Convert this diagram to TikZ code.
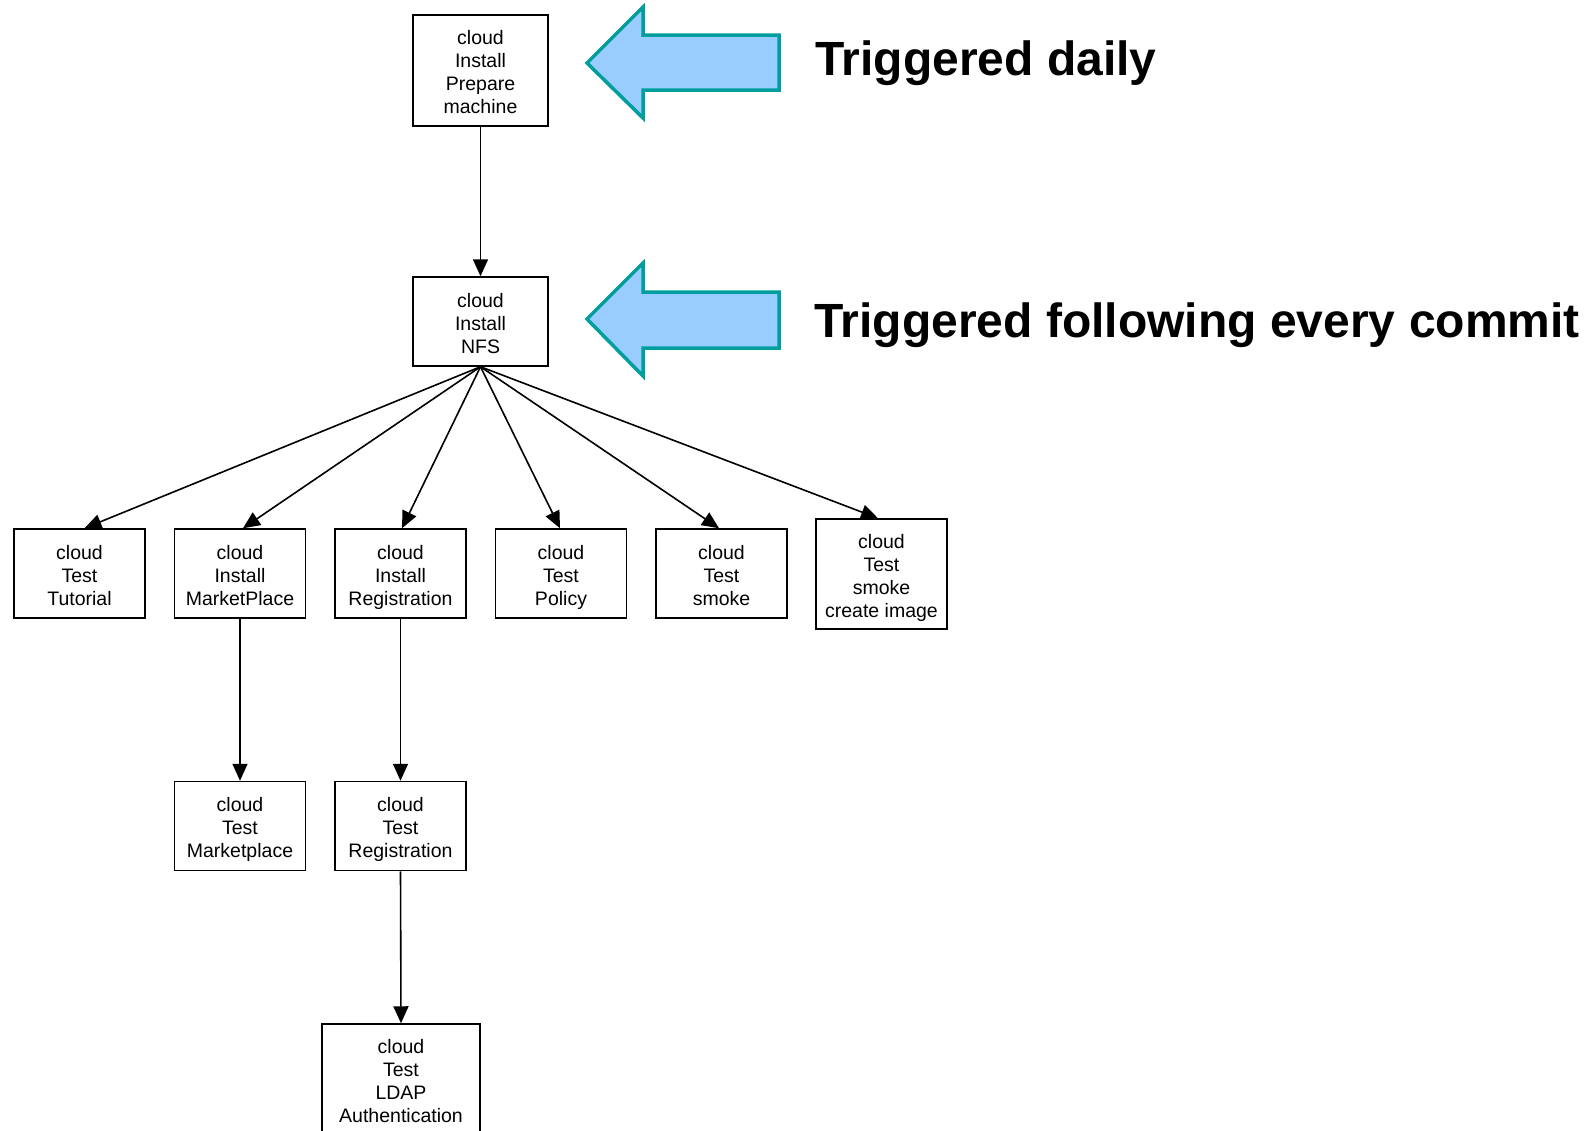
\documentclass[tikz,border=0pt]{standalone}
\usepackage{fontspec}
\setmainfont{Liberation Sans}
\usetikzlibrary{arrows.meta}
\definecolor{arrowfill}{HTML}{99CCFF}
\definecolor{arrowedge}{HTML}{009E9E}
\newcommand{\jobtop}{\rule{0pt}{24pt}}
\begin{document}
\begin{tikzpicture}[x=1pt,y=-1pt,
    job/.style={draw,line width=1.5pt,align=center,inner sep=0pt,
      minimum width=131pt,minimum height=89pt,
      font=\fontsize{19.5}{23}\selectfont,
      execute at end node={\rule[-7pt]{0pt}{0pt}}},
    dep/.style={line width=1.6pt,-{Triangle[length=17pt,width=15pt]}},
    bigarrow/.style={draw=arrowedge,fill=arrowfill,line width=3.5pt},
    trigger/.style={anchor=base west,inner sep=0pt,
      font=\fontsize{48}{57}\selectfont\bfseries}]
    \useasboundingbox (0,0) rectangle (1595,1130);
    % jobs
    \node[job,minimum width=135pt,minimum height=111pt] (prep) at (480.5,70.5) {\jobtop cloud\\Install\\Prepare\\machine};
    \node[job,minimum width=135pt] (nfs) at (480.5,321.5) {\jobtop cloud\\Install\\NFS};
    \node[job] (tut) at (79.5,573.5) {\jobtop cloud\\Test\\Tutorial};
    \node[job] (mkt) at (240,573.5) {\jobtop cloud\\Install\\MarketPlace};
    \node[job] (reg) at (400.5,573.5) {\jobtop cloud\\Install\\Registration};
    \node[job] (pol) at (561,573.5) {\jobtop cloud\\Test\\Policy};
    \node[job] (smoke) at (721.5,573.5) {\jobtop cloud\\Test\\smoke};
    \node[job,minimum height=110pt] (img) at (881.5,574) {\jobtop cloud\\Test\\smoke\\create image};
    \node[job] (tmkt) at (240,826) {\jobtop cloud\\Test\\Marketplace};
    \node[job] (treg) at (400.5,826) {\jobtop cloud\\Test\\Registration};
    \node[job,minimum width=158pt,minimum height=110pt] (ldap) at (401,1079) {\jobtop cloud\\Test\\LDAP\\Authentication};
    % dependencies
    \draw[dep] (prep.south) -- (nfs.north);
    \draw[dep] (nfs.south) -- ([xshift=5pt]tut.north);
    \draw[dep] (nfs.south) -- ([xshift=3pt]mkt.north);
    \draw[dep] (nfs.south) -- ([xshift=1.5pt]reg.north);
    \draw[dep] (nfs.south) -- ([xshift=-1pt]pol.north);
    \draw[dep] (nfs.south) -- ([xshift=-2.5pt]smoke.north);
    \draw[dep] (nfs.south) -- ([xshift=-3.5pt]img.north);
    \draw[dep] (mkt.south) -- (tmkt.north);
    \draw[dep] (reg.south) -- (treg.north);
    \draw[dep] (treg.south) -- (ldap.north);
    % triggers
    \draw[bigarrow] (587,63) -- (643,7) -- (643,35) -- (779,35) -- (779,90) -- (643,90) -- (643,118) -- cycle;
    \draw[bigarrow] (587,319) -- (643,263) -- (643,292) -- (779,292) -- (779,348) -- (643,348) -- (643,376) -- cycle;
    \node[trigger] (daily) at (815,75) {Triggered daily};
    \node[trigger] (commit) at (814,337) {Triggered following every commit};
\end{tikzpicture}
\end{document}
